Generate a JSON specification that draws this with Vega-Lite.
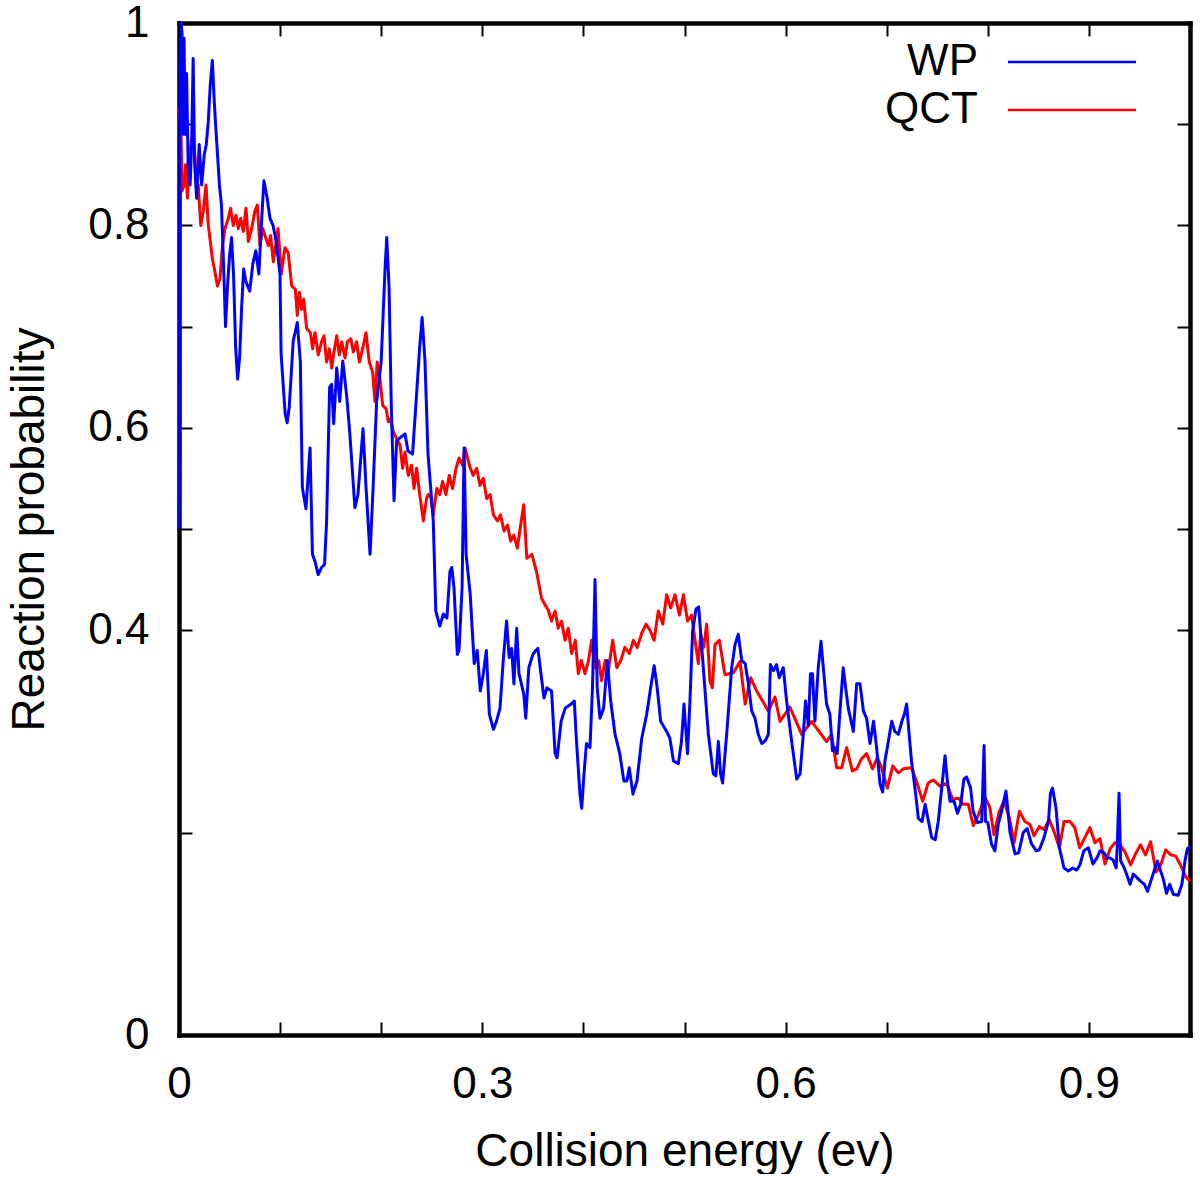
{
  "$schema": "https://vega.github.io/schema/vega-lite/v6.json",
  "description": "Reaction probability vs collision energy, WP and QCT",
  "width": 1011,
  "height": 1012,
  "padding": {"left": 6, "top": 1, "right": 5, "bottom": 0},
  "config": {
    "font": "Liberation Sans",
    "background": "white",
    "view": {"stroke": null},
    "axis": {
      "grid": false,
      "domainColor": "black",
      "domainWidth": 4.5,
      "domainCap": "square",
      "tickColor": "black",
      "tickWidth": 2,
      "tickSize": -13,
      "labelFontSize": 44,
      "labelColor": "black",
      "titleFontSize": 46,
      "titleFontWeight": "normal",
      "titleColor": "black",
      "labelFlush": false,
      "labelOverlap": false
    }
  },
  "datasets": {
    "wp": [
      {"E":0,"P":0.50},{"E":0.001,"P":0.97},{"E":0.002,"P":1.0},{"E":0.003,"P":0.99},{"E":0.004,"P":0.89},
      {"E":0.005,"P":0.985},{"E":0.006,"P":0.89},{"E":0.0075,"P":0.95},{"E":0.009,"P":0.86},{"E":0.011,"P":0.84},
      {"E":0.0125,"P":0.88},{"E":0.014,"P":0.965},{"E":0.0155,"P":0.86},{"E":0.0175,"P":0.827},{"E":0.02,"P":0.88},
      {"E":0.0224,"P":0.84},{"E":0.025,"P":0.87},{"E":0.027,"P":0.88},{"E":0.029,"P":0.903},{"E":0.031,"P":0.94},
      {"E":0.033,"P":0.963},{"E":0.035,"P":0.92},{"E":0.037,"P":0.887},{"E":0.04,"P":0.84},{"E":0.042,"P":0.82},
      {"E":0.0445,"P":0.748},{"E":0.046,"P":0.70},{"E":0.048,"P":0.74},{"E":0.05,"P":0.77},{"E":0.052,"P":0.788},
      {"E":0.054,"P":0.75},{"E":0.056,"P":0.68},{"E":0.058,"P":0.648},{"E":0.06,"P":0.67},{"E":0.062,"P":0.72},
      {"E":0.064,"P":0.757},{"E":0.066,"P":0.745},{"E":0.068,"P":0.74},{"E":0.07,"P":0.735},{"E":0.073,"P":0.762},
      {"E":0.076,"P":0.775},{"E":0.079,"P":0.752},{"E":0.082,"P":0.81},{"E":0.084,"P":0.844},{"E":0.087,"P":0.828},
      {"E":0.09,"P":0.807},{"E":0.093,"P":0.80},{"E":0.096,"P":0.785},{"E":0.0999,"P":0.752},{"E":0.101,"P":0.673},
      {"E":0.105,"P":0.614},{"E":0.107,"P":0.605},{"E":0.109,"P":0.62},{"E":0.113,"P":0.686},{"E":0.117,"P":0.704},
      {"E":0.12,"P":0.666},{"E":0.122,"P":0.541},{"E":0.1256,"P":0.52},{"E":0.1296,"P":0.58},{"E":0.132,"P":0.475},
      {"E":0.1345,"P":0.468},{"E":0.1377,"P":0.455},{"E":0.141,"P":0.462},{"E":0.144,"P":0.465},{"E":0.146,"P":0.508},
      {"E":0.149,"P":0.64},{"E":0.151,"P":0.643},{"E":0.153,"P":0.604},{"E":0.156,"P":0.659},{"E":0.159,"P":0.626},
      {"E":0.162,"P":0.666},{"E":0.166,"P":0.63},{"E":0.169,"P":0.594},{"E":0.174,"P":0.521},{"E":0.177,"P":0.534},
      {"E":0.182,"P":0.599},{"E":0.185,"P":0.541},{"E":0.189,"P":0.475},{"E":0.192,"P":0.541},{"E":0.1955,"P":0.626},
      {"E":0.2,"P":0.666},{"E":0.2037,"P":0.755},{"E":0.2055,"P":0.788},{"E":0.2078,"P":0.738},{"E":0.21,"P":0.62},
      {"E":0.2127,"P":0.528},{"E":0.2153,"P":0.587},{"E":0.2186,"P":0.59},{"E":0.2235,"P":0.594},{"E":0.2265,"P":0.577},
      {"E":0.231,"P":0.574},{"E":0.235,"P":0.633},{"E":0.238,"P":0.679},{"E":0.2405,"P":0.709},{"E":0.2433,"P":0.666},
      {"E":0.2463,"P":0.574},{"E":0.2515,"P":0.508},{"E":0.254,"P":0.419},{"E":0.258,"P":0.404},{"E":0.2615,"P":0.416},
      {"E":0.265,"P":0.412},{"E":0.268,"P":0.458},{"E":0.2698,"P":0.462},{"E":0.272,"P":0.442},{"E":0.2753,"P":0.376},
      {"E":0.277,"P":0.38},{"E":0.28,"P":0.442},{"E":0.282,"P":0.58},{"E":0.284,"P":0.475},{"E":0.288,"P":0.436},
      {"E":0.292,"P":0.367},{"E":0.295,"P":0.38},{"E":0.298,"P":0.34},{"E":0.301,"P":0.357},{"E":0.304,"P":0.38},
      {"E":0.307,"P":0.317},{"E":0.311,"P":0.302},{"E":0.314,"P":0.31},{"E":0.3175,"P":0.323},{"E":0.3207,"P":0.37},
      {"E":0.324,"P":0.409},{"E":0.3266,"P":0.373},{"E":0.329,"P":0.382},{"E":0.3313,"P":0.347},{"E":0.334,"P":0.402},
      {"E":0.3363,"P":0.357},{"E":0.341,"P":0.337},{"E":0.343,"P":0.313},{"E":0.346,"P":0.363},{"E":0.35,"P":0.376},
      {"E":0.353,"P":0.38},{"E":0.355,"P":0.382},{"E":0.358,"P":0.357},{"E":0.361,"P":0.333},{"E":0.364,"P":0.343},
      {"E":0.3685,"P":0.34},{"E":0.372,"P":0.278},{"E":0.374,"P":0.274},{"E":0.378,"P":0.31},{"E":0.382,"P":0.323},
      {"E":0.385,"P":0.325},{"E":0.388,"P":0.327},{"E":0.391,"P":0.33},{"E":0.393,"P":0.293},{"E":0.3966,"P":0.238},
      {"E":0.3983,"P":0.224},{"E":0.4006,"P":0.258},{"E":0.403,"P":0.288},{"E":0.4065,"P":0.284},{"E":0.409,"P":0.343},
      {"E":0.4115,"P":0.45},{"E":0.4137,"P":0.343},{"E":0.4164,"P":0.313},{"E":0.42,"P":0.323},{"E":0.4237,"P":0.37},
      {"E":0.427,"P":0.33},{"E":0.4313,"P":0.297},{"E":0.436,"P":0.278},{"E":0.44,"P":0.251},{"E":0.443,"P":0.251},
      {"E":0.4454,"P":0.264},{"E":0.449,"P":0.238},{"E":0.453,"P":0.251},{"E":0.4577,"P":0.293},{"E":0.4626,"P":0.317},
      {"E":0.4665,"P":0.343},{"E":0.47,"P":0.365},{"E":0.473,"P":0.343},{"E":0.4764,"P":0.31},{"E":0.4823,"P":0.30},
      {"E":0.4856,"P":0.293},{"E":0.489,"P":0.271},{"E":0.4939,"P":0.268},{"E":0.497,"P":0.29},{"E":0.4995,"P":0.327},
      {"E":0.503,"P":0.278},{"E":0.5054,"P":0.33},{"E":0.508,"P":0.399},{"E":0.5114,"P":0.421},{"E":0.514,"P":0.423},
      {"E":0.5153,"P":0.406},{"E":0.5186,"P":0.363},{"E":0.5236,"P":0.297},{"E":0.5285,"P":0.258},{"E":0.531,"P":0.256},
      {"E":0.5335,"P":0.29},{"E":0.5357,"P":0.258},{"E":0.5377,"P":0.249},{"E":0.5417,"P":0.297},{"E":0.5467,"P":0.363},
      {"E":0.55,"P":0.386},{"E":0.5532,"P":0.396},{"E":0.5566,"P":0.37},{"E":0.56,"P":0.367},{"E":0.5632,"P":0.347},
      {"E":0.5665,"P":0.32},{"E":0.5697,"P":0.313},{"E":0.573,"P":0.297},{"E":0.5764,"P":0.288},{"E":0.58,"P":0.291},
      {"E":0.583,"P":0.297},{"E":0.585,"P":0.366},{"E":0.588,"P":0.36},{"E":0.591,"P":0.366},{"E":0.5937,"P":0.353},
      {"E":0.5977,"P":0.363},{"E":0.601,"P":0.33},{"E":0.606,"P":0.29},{"E":0.611,"P":0.253},{"E":0.6143,"P":0.258},
      {"E":0.6175,"P":0.297},{"E":0.6197,"P":0.33},{"E":0.6225,"P":0.306},{"E":0.6246,"P":0.357},{"E":0.6266,"P":0.357},
      {"E":0.629,"P":0.31},{"E":0.6323,"P":0.363},{"E":0.635,"P":0.389},{"E":0.6373,"P":0.363},{"E":0.6405,"P":0.327},
      {"E":0.6438,"P":0.317},{"E":0.6464,"P":0.281},{"E":0.6487,"P":0.284},{"E":0.651,"P":0.278},{"E":0.6538,"P":0.32},
      {"E":0.657,"P":0.363},{"E":0.6594,"P":0.343},{"E":0.662,"P":0.323},{"E":0.667,"P":0.30},{"E":0.6703,"P":0.347},
      {"E":0.6736,"P":0.347},{"E":0.677,"P":0.32},{"E":0.6801,"P":0.313},{"E":0.6835,"P":0.288},{"E":0.687,"P":0.31},
      {"E":0.69,"P":0.284},{"E":0.6934,"P":0.248},{"E":0.696,"P":0.24},{"E":0.6983,"P":0.271},{"E":0.7016,"P":0.29},
      {"E":0.705,"P":0.31},{"E":0.708,"P":0.30},{"E":0.7115,"P":0.297},{"E":0.715,"P":0.31},{"E":0.7175,"P":0.317},
      {"E":0.7197,"P":0.327},{"E":0.7222,"P":0.297},{"E":0.7245,"P":0.271},{"E":0.728,"P":0.244},{"E":0.7313,"P":0.214},
      {"E":0.735,"P":0.211},{"E":0.738,"P":0.228},{"E":0.7445,"P":0.195},{"E":0.748,"P":0.193},{"E":0.751,"P":0.211},
      {"E":0.7544,"P":0.244},{"E":0.7577,"P":0.276},{"E":0.7597,"P":0.254},{"E":0.7626,"P":0.231},{"E":0.7666,"P":0.231},
      {"E":0.77,"P":0.219},{"E":0.7732,"P":0.228},{"E":0.7764,"P":0.253},{"E":0.779,"P":0.255},{"E":0.783,"P":0.244},
      {"E":0.7855,"P":0.221},{"E":0.7896,"P":0.21},{"E":0.794,"P":0.211},{"E":0.7963,"P":0.286},{"E":0.7977,"P":0.211},
      {"E":0.80,"P":0.21},{"E":0.8036,"P":0.189},{"E":0.807,"P":0.182},{"E":0.8103,"P":0.208},{"E":0.8136,"P":0.221},
      {"E":0.818,"P":0.241},{"E":0.822,"P":0.20},{"E":0.827,"P":0.179},{"E":0.8305,"P":0.18},{"E":0.835,"P":0.20},
      {"E":0.839,"P":0.204},{"E":0.8432,"P":0.189},{"E":0.848,"P":0.182},{"E":0.851,"P":0.183},{"E":0.8556,"P":0.195},
      {"E":0.86,"P":0.211},{"E":0.862,"P":0.239},{"E":0.864,"P":0.244},{"E":0.8675,"P":0.224},{"E":0.8708,"P":0.185},
      {"E":0.8754,"P":0.165},{"E":0.8797,"P":0.162},{"E":0.884,"P":0.165},{"E":0.888,"P":0.163},{"E":0.891,"P":0.168},
      {"E":0.895,"P":0.182},{"E":0.8995,"P":0.185},{"E":0.904,"P":0.169},{"E":0.908,"P":0.175},{"E":0.911,"P":0.182},
      {"E":0.915,"P":0.18},{"E":0.918,"P":0.175},{"E":0.921,"P":0.175},{"E":0.924,"P":0.173},{"E":0.927,"P":0.165},
      {"E":0.928,"P":0.186},{"E":0.9298,"P":0.239},{"E":0.9314,"P":0.172},{"E":0.935,"P":0.165},{"E":0.9372,"P":0.159},
      {"E":0.9407,"P":0.149},{"E":0.944,"P":0.159},{"E":0.948,"P":0.155},{"E":0.951,"P":0.152},{"E":0.9548,"P":0.149},
      {"E":0.958,"P":0.142},{"E":0.9612,"P":0.152},{"E":0.9645,"P":0.162},{"E":0.9677,"P":0.172},{"E":0.97,"P":0.165},
      {"E":0.9733,"P":0.155},{"E":0.9768,"P":0.14},{"E":0.98,"P":0.149},{"E":0.9834,"P":0.139},{"E":0.9883,"P":0.138},
      {"E":0.992,"P":0.149},{"E":0.995,"P":0.172},{"E":0.9974,"P":0.184},{"E":1.0,"P":0.186}
    ],
    "qct": [
      {"E":0,"P":0.916},{"E":0.002,"P":0.893},{"E":0.003,"P":0.834},{"E":0.005,"P":0.84},{"E":0.0065,"P":0.86},
      {"E":0.0084,"P":0.827},{"E":0.01,"P":0.866},{"E":0.0125,"P":0.886},{"E":0.0145,"P":0.88},{"E":0.016,"P":0.866},
      {"E":0.0175,"P":0.827},{"E":0.019,"P":0.84},{"E":0.0215,"P":0.80},{"E":0.024,"P":0.814},{"E":0.0267,"P":0.84},
      {"E":0.029,"P":0.80},{"E":0.031,"P":0.784},{"E":0.033,"P":0.767},{"E":0.0356,"P":0.754},{"E":0.038,"P":0.74},
      {"E":0.0405,"P":0.747},{"E":0.043,"P":0.78},{"E":0.0455,"P":0.797},{"E":0.0488,"P":0.807},{"E":0.051,"P":0.817},
      {"E":0.0537,"P":0.80},{"E":0.0564,"P":0.81},{"E":0.0587,"P":0.797},{"E":0.061,"P":0.807},{"E":0.0636,"P":0.794},
      {"E":0.0663,"P":0.817},{"E":0.0686,"P":0.784},{"E":0.0719,"P":0.797},{"E":0.075,"P":0.814},{"E":0.0775,"P":0.82},
      {"E":0.08,"P":0.78},{"E":0.0828,"P":0.797},{"E":0.086,"P":0.787},{"E":0.0883,"P":0.78},{"E":0.0906,"P":0.79},
      {"E":0.0933,"P":0.764},{"E":0.098,"P":0.797},{"E":0.1012,"P":0.752},{"E":0.1048,"P":0.778},{"E":0.108,"P":0.773},
      {"E":0.1115,"P":0.74},{"E":0.115,"P":0.737},{"E":0.117,"P":0.711},{"E":0.119,"P":0.734},{"E":0.1213,"P":0.717},
      {"E":0.1233,"P":0.727},{"E":0.1263,"P":0.698},{"E":0.13,"P":0.694},{"E":0.1322,"P":0.678},{"E":0.1345,"P":0.694},
      {"E":0.1378,"P":0.672},{"E":0.141,"P":0.685},{"E":0.1434,"P":0.691},{"E":0.146,"P":0.665},{"E":0.1487,"P":0.678},
      {"E":0.151,"P":0.659},{"E":0.1533,"P":0.675},{"E":0.156,"P":0.691},{"E":0.1586,"P":0.672},{"E":0.161,"P":0.685},
      {"E":0.1642,"P":0.669},{"E":0.1665,"P":0.685},{"E":0.17,"P":0.688},{"E":0.1724,"P":0.675},{"E":0.1757,"P":0.685},
      {"E":0.1784,"P":0.665},{"E":0.1816,"P":0.678},{"E":0.185,"P":0.694},{"E":0.1882,"P":0.665},{"E":0.1915,"P":0.655},
      {"E":0.1938,"P":0.626},{"E":0.196,"P":0.665},{"E":0.1987,"P":0.649},{"E":0.2015,"P":0.622},{"E":0.2048,"P":0.619},
      {"E":0.207,"P":0.606},{"E":0.2093,"P":0.609},{"E":0.212,"P":0.596},{"E":0.2153,"P":0.589},{"E":0.2186,"P":0.583},
      {"E":0.2212,"P":0.56},{"E":0.2235,"P":0.576},{"E":0.2268,"P":0.553},{"E":0.23,"P":0.563},{"E":0.2325,"P":0.54},
      {"E":0.235,"P":0.56},{"E":0.2377,"P":0.537},{"E":0.2417,"P":0.508},{"E":0.245,"P":0.531},{"E":0.2466,"P":0.534},
      {"E":0.249,"P":0.531},{"E":0.2515,"P":0.514},{"E":0.255,"P":0.54},{"E":0.258,"P":0.534},{"E":0.2607,"P":0.547},
      {"E":0.264,"P":0.534},{"E":0.2673,"P":0.553},{"E":0.2706,"P":0.54},{"E":0.274,"P":0.56},{"E":0.277,"P":0.57},
      {"E":0.2806,"P":0.563},{"E":0.2829,"P":0.58},{"E":0.2878,"P":0.561},{"E":0.291,"P":0.553},{"E":0.2945,"P":0.56},
      {"E":0.2977,"P":0.543},{"E":0.301,"P":0.55},{"E":0.3044,"P":0.53},{"E":0.3077,"P":0.534},{"E":0.311,"P":0.514},
      {"E":0.315,"P":0.508},{"E":0.318,"P":0.514},{"E":0.3215,"P":0.498},{"E":0.325,"P":0.504},{"E":0.328,"P":0.488},
      {"E":0.3313,"P":0.494},{"E":0.3346,"P":0.481},{"E":0.3375,"P":0.501},{"E":0.341,"P":0.524},{"E":0.344,"P":0.471},
      {"E":0.349,"P":0.475},{"E":0.3536,"P":0.458},{"E":0.3585,"P":0.432},{"E":0.362,"P":0.425},{"E":0.3652,"P":0.42},
      {"E":0.3685,"P":0.409},{"E":0.372,"P":0.419},{"E":0.3751,"P":0.402},{"E":0.3784,"P":0.409},{"E":0.3818,"P":0.39},
      {"E":0.385,"P":0.402},{"E":0.3884,"P":0.377},{"E":0.392,"P":0.39},{"E":0.395,"P":0.357},{"E":0.398,"P":0.37},
      {"E":0.4016,"P":0.357},{"E":0.405,"P":0.37},{"E":0.4082,"P":0.39},{"E":0.4115,"P":0.363},{"E":0.415,"P":0.37},
      {"E":0.418,"P":0.35},{"E":0.4215,"P":0.37},{"E":0.4247,"P":0.36},{"E":0.429,"P":0.39},{"E":0.433,"P":0.363},
      {"E":0.437,"P":0.37},{"E":0.441,"P":0.383},{"E":0.4455,"P":0.377},{"E":0.4494,"P":0.39},{"E":0.4533,"P":0.383},
      {"E":0.4577,"P":0.397},{"E":0.462,"P":0.406},{"E":0.4659,"P":0.40},{"E":0.47,"P":0.39},{"E":0.4741,"P":0.419},
      {"E":0.4785,"P":0.406},{"E":0.4824,"P":0.435},{"E":0.4863,"P":0.422},{"E":0.4906,"P":0.435},{"E":0.495,"P":0.415},
      {"E":0.4989,"P":0.435},{"E":0.503,"P":0.409},{"E":0.5071,"P":0.415},{"E":0.5104,"P":0.39},{"E":0.5137,"P":0.367},
      {"E":0.516,"P":0.396},{"E":0.519,"P":0.383},{"E":0.5219,"P":0.406},{"E":0.5252,"P":0.35},{"E":0.5275,"P":0.343},
      {"E":0.5302,"P":0.386},{"E":0.5345,"P":0.39},{"E":0.54,"P":0.356},{"E":0.5483,"P":0.358},{"E":0.5549,"P":0.369},
      {"E":0.56,"P":0.327},{"E":0.5655,"P":0.353},{"E":0.5714,"P":0.34},{"E":0.583,"P":0.32},{"E":0.5895,"P":0.334},
      {"E":0.5944,"P":0.31},{"E":0.6043,"P":0.324},{"E":0.6159,"P":0.297},{"E":0.6257,"P":0.31},{"E":0.6405,"P":0.29},
      {"E":0.6455,"P":0.297},{"E":0.6505,"P":0.264},{"E":0.6555,"P":0.264},{"E":0.6604,"P":0.284},{"E":0.666,"P":0.261},
      {"E":0.6703,"P":0.263},{"E":0.6752,"P":0.273},{"E":0.6801,"P":0.278},{"E":0.686,"P":0.263},{"E":0.6907,"P":0.274},
      {"E":0.695,"P":0.264},{"E":0.7006,"P":0.244},{"E":0.706,"P":0.266},{"E":0.7115,"P":0.259},{"E":0.7164,"P":0.263},
      {"E":0.7247,"P":0.264},{"E":0.7303,"P":0.248},{"E":0.7356,"P":0.231},{"E":0.741,"P":0.249},{"E":0.746,"P":0.252},
      {"E":0.7527,"P":0.246},{"E":0.7593,"P":0.249},{"E":0.7652,"P":0.233},{"E":0.771,"P":0.234},{"E":0.7757,"P":0.228},
      {"E":0.7807,"P":0.228},{"E":0.7856,"P":0.207},{"E":0.7905,"P":0.217},{"E":0.7972,"P":0.235},{"E":0.802,"P":0.225},
      {"E":0.806,"P":0.198},{"E":0.8114,"P":0.221},{"E":0.816,"P":0.231},{"E":0.8213,"P":0.215},{"E":0.826,"P":0.19},
      {"E":0.8312,"P":0.221},{"E":0.8368,"P":0.211},{"E":0.8417,"P":0.208},{"E":0.8457,"P":0.197},{"E":0.851,"P":0.206},
      {"E":0.8556,"P":0.203},{"E":0.8608,"P":0.213},{"E":0.8655,"P":0.201},{"E":0.8708,"P":0.185},{"E":0.8754,"P":0.211},
      {"E":0.8813,"P":0.211},{"E":0.886,"P":0.205},{"E":0.891,"P":0.185},{"E":0.896,"P":0.195},{"E":0.901,"P":0.205},
      {"E":0.906,"P":0.19},{"E":0.911,"P":0.194},{"E":0.9159,"P":0.169},{"E":0.921,"P":0.184},{"E":0.9258,"P":0.19},
      {"E":0.9308,"P":0.188},{"E":0.9357,"P":0.181},{"E":0.9413,"P":0.168},{"E":0.9456,"P":0.178},{"E":0.951,"P":0.188},
      {"E":0.956,"P":0.178},{"E":0.961,"P":0.191},{"E":0.9664,"P":0.161},{"E":0.971,"P":0.168},{"E":0.976,"P":0.183},
      {"E":0.981,"P":0.178},{"E":0.9858,"P":0.177},{"E":0.991,"P":0.167},{"E":0.996,"P":0.156},{"E":1.0,"P":0.152}
    ]
  },
  "layer": [
    {
      "data": {"name": "qct"},
      "mark": {"type": "line", "strokeWidth": 3, "strokeJoin": "round"},
      "encoding": {
        "x": {
          "field": "E",
          "type": "quantitative",
          "scale": {"domain": [0, 1], "nice": false},
          "axis": {
            "orient": "bottom",
            "title": "Collision energy (ev)",
            "values": [0, 0.1, 0.2, 0.3, 0.4, 0.5, 0.6, 0.7, 0.8, 0.9, 1],
            "labelExpr": "datum.value == 0 || datum.value == 0.3 || datum.value == 0.6 || datum.value == 0.9 ? format(datum.value, '~g') : ''",
            "labelPadding": 40,
            "titlePadding": 23
          }
        },
        "y": {
          "field": "P",
          "type": "quantitative",
          "scale": {"domain": [0, 1], "nice": false},
          "axis": {
            "orient": "left",
            "title": "Reaction probability",
            "values": [0, 0.2, 0.4, 0.5, 0.6, 0.7, 0.8, 0.9, 1],
            "labelExpr": "datum.value == 0 || datum.value == 0.4 || datum.value == 0.6 || datum.value == 0.8 || datum.value == 1 ? format(datum.value, '~g') : ''",
            "labelPadding": 43,
            "titlePadding": 34
          }
        },
        "color": {
          "datum": "QCT",
          "type": "nominal",
          "scale": {"domain": ["WP", "QCT"], "range": ["#0000ff", "#ff0000"]},
          "legend": {
            "orient": "none",
            "legendX": 871,
            "legendY": 17,
            "title": null,
            "symbolType": "M-4,0H4",
            "symbolSize": 1024,
            "symbolStrokeWidth": 2.6,
            "labelFontSize": 44,
            "labelColor": "black",
            "labelAlign": "right",
            "labelOffset": -116,
            "labelLimit": 0,
            "rowPadding": 4,
            "padding": 0
          }
        }
      }
    },
    {
      "data": {"name": "wp"},
      "mark": {"type": "line", "strokeWidth": 3, "strokeJoin": "round"},
      "encoding": {
        "x": {
          "field": "E",
          "type": "quantitative",
          "axis": {
            "orient": "top",
            "title": null,
            "labels": false,
            "values": [0, 0.1, 0.2, 0.3, 0.4, 0.5, 0.6, 0.7, 0.8, 0.9, 1]
          }
        },
        "y": {
          "field": "P",
          "type": "quantitative",
          "axis": {
            "orient": "right",
            "title": null,
            "labels": false,
            "values": [0, 0.2, 0.4, 0.5, 0.6, 0.7, 0.8, 0.9, 1]
          }
        },
        "color": {"datum": "WP", "type": "nominal"}
      }
    }
  ],
  "resolve": {"axis": {"x": "independent", "y": "independent"}}
}
